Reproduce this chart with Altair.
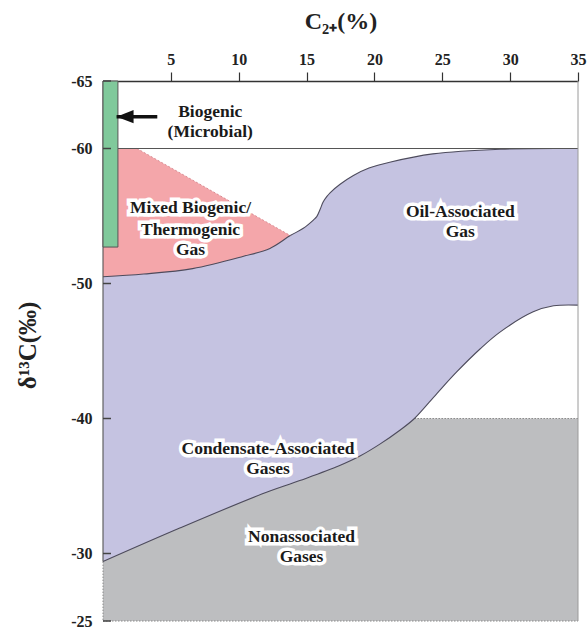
import altair as alt
import pandas as pd

# ---------------- data ----------------
x_ticks = [5, 10, 15, 20, 25, 30, 35]
y_ticks = [-65, -60, -50, -40, -30, -25]

# upper boundary of the oil-/condensate-associated field (purple top)
oil_x = [0, 3, 6.6, 10.3, 12.3, 13.8, 14.76, 15.5, 15.75, 16.0, 16.23, 16.5, 16.73, 17.47, 18.45, 19.6, 21.2, 24.3, 29.3, 35]
oil_y = [-50.5, -50.7, -51.1, -52.0, -52.6, -53.55, -54.09, -54.7, -54.95, -55.5, -56.05, -56.45, -56.72, -57.35, -58.0, -58.55, -59.0, -59.6, -59.95, -60.0]

# lower boundary of the purple field (upper edge of nonassociated gases)
cond_x = [0, 5.7, 11.7, 14.5, 17.4, 18.9, 20.4, 21.9, 22.95, 24.6, 26.06, 27.78, 29.25, 31.7, 33.2, 35]
cond_y = [-29.4, -31.9, -34.4, -35.4, -36.5, -37.2, -38.1, -39.15, -40.0, -41.85, -43.45, -45.15, -46.4, -47.9, -48.35, -48.4]

# mixed biogenic/thermogenic field, upper edge
mixed_x = [0, 2.5, 13.8]
mixed_y = [-60, -60, -53.55]

# biogenic (microbial) bar
bio_x = [0, 1.1]
bio_y = [-65, -52.7]

nonassoc_top = -40
nonassoc_start = 22.95
y_bottom = -25
y_top = -65
x_max = 35

# arrow
arrow_tip_x = 1.0
arrow_tail_x = 4.0
arrow_y = -62.36

label_text = ["Biogenic", "(Microbial)", "Mixed Biogenic/", "Thermogenic", "Gas",
              "Oil-Associated", "Gas", "Condensate-Associated", "Gases",
              "Nonassociated", "Gases"]
label_x = [7.9, 7.9, 6.45, 6.45, 6.45, 26.33, 26.33, 12.16, 12.16, 14.63, 14.63]
label_y = [-62.7, -61.25, -55.57, -53.96, -52.5, -55.3, -53.84, -37.76, -36.26, -31.2, -29.74]

# ---------------- tables ----------------
oil_df = pd.DataFrame({"x": oil_x, "y": oil_y, "y2": y_bottom})
cond_df = pd.DataFrame({"x": cond_x, "y": cond_y, "y2": y_bottom})
white_df = pd.DataFrame({"x": [a for a in cond_x if a >= nonassoc_start],
                         "y": [b for a, b in zip(cond_x, cond_y) if a >= nonassoc_start],
                         "y2": nonassoc_top})
mixed_df = pd.DataFrame({"x": mixed_x, "y": mixed_y, "y2": -50})
bio_df = pd.DataFrame({"x": [bio_x[0]], "x2": [bio_x[1]], "y": [bio_y[0]], "y2": [bio_y[1]]})
diag_df = pd.DataFrame({"x": mixed_x[1:], "y": mixed_y[1:]})
lab_df = pd.DataFrame({"t": label_text, "x": label_x, "y": label_y})
ytick_df = pd.DataFrame({"y": y_ticks})

solid_df = pd.DataFrame({"x": [bio_x[1], 0], "x2": [x_max, 0],
                         "y": [-60, y_top], "y2": [-60, cond_y[0]]})
gray_df = pd.DataFrame({"x": [x_max], "x2": [x_max], "y": [y_top], "y2": [y_bottom]})
dot_df = pd.DataFrame({"x": [0, nonassoc_start, 0], "x2": [x_max, x_max, 0],
                       "y": [y_bottom, nonassoc_top, cond_y[0]],
                       "y2": [y_bottom, nonassoc_top, y_bottom]})
arrow_df = pd.DataFrame({"x": [arrow_tip_x], "x2": [arrow_tail_x], "y": [arrow_y]})

FONT = "Liberation Serif"
CURVE = "catmull-rom"

x_axis = alt.Axis(orient="top", values=x_ticks, grid=False, tickSize=9, tickWidth=1.2,
                  tickColor="#333", domainColor="#333", domainWidth=1.5,
                  labelFont=FONT, labelFontSize=16, labelFontWeight="bold", labelColor="#222",
                  labelPadding=5, labelFlush=False, labelOverlap=False,
                  labelExpr="toString(datum.value)",
                  title="C₂₊(%)", titleFont=FONT, titleFontSize=24, titleFontWeight="bold",
                  titleColor="#222", titleY=-60, titleBaseline="middle")
y_axis = alt.Axis(orient="left", values=y_ticks, grid=False, ticks=False, domain=False,
                  labelFont=FONT, labelFontSize=16, labelFontWeight="bold", labelColor="#222",
                  labelPadding=11, labelOverlap=False, labelBaseline="middle",
                  labelExpr="toString(datum.value)",
                  title="δ¹³C(‰)", titleFont=FONT, titleFontSize=25, titleFontWeight="bold",
                  titleColor="#222", titleX=-76, titleY=264, titleBaseline="middle",
                  titleAlign="center", titleAngle=270)

xs = alt.Scale(domain=[0, x_max], nice=False, zero=False)
ys = alt.Scale(domain=[y_top, y_bottom], nice=False, zero=False, reverse=True)


def X(f="x"):
    return alt.X(f"{f}:Q", scale=xs, axis=x_axis)


def Y(f="y"):
    return alt.Y(f"{f}:Q", scale=ys, axis=y_axis)


PURPLE = "#c5c3e1"
GRAY = "#bdbec0"
PINK = "#f4a6aa"
GREEN = "#80c99b"
EDGE = "#4d4b5c"

mixed = alt.Chart(mixed_df).mark_area(color=PINK, interpolate="linear").encode(
    x=X(), y=Y(), y2="y2:Q")
oil = alt.Chart(oil_df).mark_area(color=PURPLE, interpolate=CURVE).encode(
    x=X(), y=Y(), y2="y2:Q")
nonassoc = alt.Chart(cond_df).mark_area(color=GRAY, interpolate=CURVE).encode(
    x=X(), y=Y(), y2="y2:Q")
white = alt.Chart(white_df).mark_area(color="white", interpolate=CURVE).encode(
    x=X(), y=Y(), y2="y2:Q")

oil_line = alt.Chart(oil_df).mark_line(color=EDGE, strokeWidth=1.1, interpolate=CURVE).encode(
    x=X(), y=Y())
cond_line = alt.Chart(cond_df).mark_line(color=EDGE, strokeWidth=1.1, interpolate=CURVE).encode(
    x=X(), y=Y())
diag = alt.Chart(diag_df).mark_line(color="#d98c93", strokeWidth=1, strokeDash=[2, 2]).encode(
    x=X(), y=Y())

solid = alt.Chart(solid_df).mark_rule(color="#555", strokeWidth=1.1).encode(
    x=X(), x2="x2:Q", y=Y(), y2="y2:Q")
border = alt.Chart(gray_df).mark_rule(color="#9a9a9a", strokeWidth=1).encode(
    x=X(), x2="x2:Q", y=Y(), y2="y2:Q")
dots = alt.Chart(dot_df).mark_rule(color="#888", strokeWidth=1, strokeDash=[1.5, 1.5]).encode(
    x=X(), x2="x2:Q", y=Y(), y2="y2:Q")

bio = alt.Chart(bio_df).mark_rect(color=GREEN, stroke="#555", strokeWidth=1).encode(
    x=X(), x2="x2:Q", y=Y(), y2="y2:Q")

yticks = alt.Chart(ytick_df).mark_rule(color="#444", strokeWidth=1.5).encode(
    x=alt.value(0), x2=alt.value(8), y=Y())

shaft = alt.Chart(arrow_df).mark_rule(color="#111", strokeWidth=3.5).encode(
    x=X(), x2="x2:Q", y=Y())
head = alt.Chart(arrow_df).mark_point(shape="M-1,0L1,-0.78L1,0.78Z", filled=True, opacity=1,
                                      color="#111", size=289, xOffset=8.5).encode(x=X(), y=Y())

halo = alt.Chart(lab_df).mark_text(font=FONT, fontSize=17.5, fontWeight="bold", color="white",
                                   stroke="white", strokeWidth=7, strokeJoin="miter",
                                   align="center", baseline="middle").encode(
    x=X(), y=Y(), text="t:N")
text = alt.Chart(lab_df).mark_text(font=FONT, fontSize=17.5, fontWeight="bold", color="#1a1a1a",
                                   align="center", baseline="middle").encode(
    x=X(), y=Y(), text="t:N")

chart = alt.layer(
    mixed, oil, nonassoc, white, dots, oil_line, cond_line, diag, solid, border,
    bio, yticks, shaft, head, halo, text
).properties(
    width=475, height=540,
    padding={"left": 103, "top": 81, "right": 9, "bottom": 11},
    autosize=alt.AutoSizeParams(type="none"),
    background="white",
).configure_view(stroke=None)

chart.save("out.html", embed_options={"renderer": "svg", "actions": False})
